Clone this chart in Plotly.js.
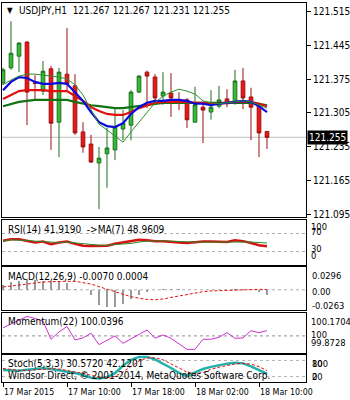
<!DOCTYPE html>
<html><head><meta charset="utf-8">
<script src="https://cdn.plot.ly/plotly-3.0.1.min.js"></script>
<style>html,body{margin:0;padding:0;background:#fff;}#chart{width:350px;height:400px;}</style>
</head><body><div id="chart"></div><script>
// ---- data (hourly bars, 17 Mar 02:00 .. 18 Mar 11:00) ----
const barOpen  = [121.367,121.398,121.422,121.451,121.367,121.350,121.396,121.286,121.385,121.361,121.266,121.241,121.202,121.221,121.229,121.272,121.280,121.348,121.389,121.379,121.340,121.346,121.332,121.332,121.286,121.317,121.307,121.319,121.334,121.326,121.371,121.338,121.319,121.267];
const barHigh  = [121.398,121.494,121.451,121.453,121.383,121.412,121.402,121.398,121.480,121.385,121.286,121.260,121.235,121.274,121.313,121.311,121.352,121.383,121.392,121.385,121.389,121.387,121.348,121.336,121.359,121.328,121.352,121.361,121.354,121.394,121.398,121.357,121.326,121.267];
const barLow   = [121.363,121.394,121.389,121.280,121.332,121.342,121.229,121.214,121.352,121.260,121.223,121.202,121.107,121.151,121.208,121.249,121.249,121.346,121.315,121.322,121.322,121.297,121.311,121.274,121.286,121.243,121.291,121.315,121.317,121.322,121.313,121.249,121.214,121.231];
const barClose = [121.394,121.428,121.449,121.348,121.366,121.391,121.284,121.389,121.365,121.264,121.235,121.204,121.212,121.233,121.276,121.284,121.348,121.381,121.381,121.336,121.348,121.336,121.331,121.291,121.322,121.311,121.317,121.332,121.324,121.371,121.336,121.317,121.264,121.255];
const maBlue   = [121.352,121.369,121.379,121.377,121.369,121.365,121.365,121.367,121.365,121.348,121.330,121.307,121.286,121.278,121.276,121.284,121.303,121.317,121.326,121.330,121.330,121.332,121.332,121.330,121.324,121.324,121.321,121.324,121.326,121.328,121.330,121.328,121.319,121.307];
const maRed    = [121.334,121.342,121.350,121.352,121.352,121.352,121.350,121.350,121.350,121.340,121.330,121.317,121.309,121.303,121.301,121.301,121.307,121.315,121.321,121.326,121.328,121.328,121.328,121.328,121.326,121.326,121.324,121.324,121.326,121.328,121.328,121.328,121.324,121.319];
const maGreen  = [121.319,121.324,121.328,121.330,121.332,121.332,121.332,121.332,121.332,121.328,121.324,121.321,121.319,121.317,121.315,121.315,121.317,121.319,121.321,121.324,121.326,121.326,121.326,121.326,121.326,121.326,121.326,121.326,121.326,121.326,121.326,121.326,121.324,121.321];
const maThin   = [121.363,121.373,121.381,121.385,121.385,121.383,121.381,121.379,121.375,121.363,121.342,121.311,121.282,121.270,121.258,121.245,121.266,121.286,121.307,121.326,121.340,121.348,121.354,121.350,121.344,121.330,121.326,121.324,121.326,121.328,121.330,121.328,121.321,121.315];
const rsi      = [54,57,57,53,50,52,46,50,52,47,43,42,42,43,47,50,54,56,55,53,53,51,50,49,51,52,52,51,51,55,53,49,44,41.919];
const rsiMa    = [53,56,55,55,53,52,51,50,51,49,47,45,44,44,45,46,48,51,53,53,54,53,52,52,51,51,51,51,52,52,52,51,50,48.961];
const macdMain = [0.0062,0.0101,0.0114,0.0123,0.0123,0.0120,0.0110,0.0101,0.0092,0.0014,-0.0007,-0.0072,-0.0202,-0.0224,-0.0224,-0.0181,-0.0116,-0.0072,-0.0029,-0.0007,0.0005,0.0010,0.0008,0.0002,-0.0005,-0.0005,0.0003,0.0002,0.0003,0.0010,0.0012,0.0004,-0.0025,-0.0070];
const macdSig  = [0.0036,0.0050,0.0065,0.0080,0.0090,0.0100,0.0105,0.0110,0.0110,0.0110,0.0095,0.0075,0.0040,0.0005,-0.0030,-0.0060,-0.0090,-0.0110,-0.0125,-0.0130,-0.0120,-0.0100,-0.0080,-0.0060,-0.0040,-0.0025,-0.0015,-0.0010,-0.0005,0.0000,0.0003,0.0005,0.0005,0.0004];
const momentum = [100.06,100.09,100.12,100.145,100.13,100.11,99.975,100.03,100.07,99.97,99.985,100.02,99.935,99.965,100.0,99.945,99.98,100.01,100.044,99.982,100.007,99.982,99.94,99.90,99.90,99.975,99.975,99.99,100.024,99.982,99.985,100.039,100.024,100.0396];
const stochK   = [44,43,42,45,49,51,48,44,38,33,26,16,13,18,33,60,82,93,93,84,69,52,34,22,36,48,56,62,68,71,69,58,44,30.572];
const stochD   = [50,46,43,43,45,48,49,48,43,38,32,25,18,16,21,37,58,78,89,90,82,68,52,36,31,35,47,55,62,67,69,66,57,42.12];
const timeTickIdx  = [0,8,16,24,32];
const timeTickText = ['17 Mar 2015','17 Mar 10:00','17 Mar 18:00','18 Mar 02:00','18 Mar 10:00'];
const priceTicks = [121.095,121.165,121.235,121.305,121.375,121.445,121.515];
const lastPrice = 121.255;
const headerText = 'USDJPY,H1\u00a0\u00a0121.267 121.267 121.231 121.255';
const rsiText  = 'RSI(14) 41.9190\u00a0\u00a0->MA(7) 48.9609';
const macdText = 'MACD(12,26,9) -0.0070 0.0004';
const momText  = 'Momentum(22) 100.0396';
const stochText = 'Stoch(5,3,3) 30.5720 42.1201';
const copyText = 'Windsor Direct, \u00a9 2001-2014, MetaQuotes Software Corp.';
const rsiLabels = ['100','70','30','0'];
const macdLabels = ['0.0296','0.00','-0.0263'];
const momLabels = ['100.1704','100','99.8728'];
const stochLabels = ['100','80','20','0'];

// ---- layout geometry ----
const W=350,H=400, ml=2, mr=44, mt=3, mb=18;
const plotW = W-ml-mr, plotH = H-mt-mb;
const dom = (top,bot) => [(H-mb-bot)/plotH, (H-mb-top)/plotH];
const fx = px => (px-ml)/plotW;
const fy = py => (H-mb-py)/plotH;
const FONT = '"DejaVu Sans Condensed", "Liberation Sans", Arial, sans-serif';
const xs = barClose.map((_,i)=>i);
const xRange = [-0.125, 37.875];
const xToPx = v => ml + (v - xRange[0]) / (xRange[1]-xRange[0]) * plotW;

const traces = [
  {type:'scatter',mode:'lines',x:xs,y:maGreen,line:{color:'#137313',width:2.2},xaxis:'x',yaxis:'y',hoverinfo:'skip'},
  {type:'scatter',mode:'lines',x:xs,y:maRed,line:{color:'#e01010',width:2.2},xaxis:'x',yaxis:'y',hoverinfo:'skip'},
  {type:'scatter',mode:'lines',x:xs,y:maBlue,line:{color:'#0a0adc',width:2.2},xaxis:'x',yaxis:'y',hoverinfo:'skip'},
  {type:'scatter',mode:'lines',x:xs,y:maThin,line:{color:'#2f8f2f',width:1},xaxis:'x',yaxis:'y',hoverinfo:'skip'},
  {type:'candlestick',x:xs,open:barOpen,high:barHigh,low:barLow,close:barClose,
   increasing:{line:{color:'#1d6f1d',width:1},fillcolor:'#36bb36'},
   decreasing:{line:{color:'#9a1010',width:1},fillcolor:'#ee1515'},
   whiskerwidth:0,xaxis:'x',yaxis:'y',hoverinfo:'skip'},
  {type:'scatter',mode:'lines',x:xs,y:rsi,line:{color:'#d81010',width:2.5},xaxis:'x2',yaxis:'y2',hoverinfo:'skip'},
  {type:'scatter',mode:'lines',x:xs,y:rsiMa,line:{color:'#2a8a2a',width:1},xaxis:'x2',yaxis:'y2',hoverinfo:'skip'},
  {type:'bar',x:xs,y:macdMain,width:0.13,marker:{color:'#9a9a9a',line:{width:0}},xaxis:'x3',yaxis:'y3',hoverinfo:'skip'},
  {type:'scatter',mode:'lines',x:xs,y:macdSig,line:{color:'#e01010',width:1,dash:'3px,2px'},xaxis:'x3',yaxis:'y3',hoverinfo:'skip'},
  {type:'scatter',mode:'lines',x:xs,y:momentum,line:{color:'#cc33cc',width:1},xaxis:'x4',yaxis:'y4',hoverinfo:'skip'},
  {type:'scatter',mode:'lines',x:xs,y:stochK,line:{color:'#20b2aa',width:2.5},xaxis:'x5',yaxis:'y5',hoverinfo:'skip'},
  {type:'scatter',mode:'lines',x:xs,y:stochD,line:{color:'#e01010',width:1,dash:'3px,2px'},xaxis:'x5',yaxis:'y5',hoverinfo:'skip'}
];

const xBase = {range:xRange,showgrid:false,zeroline:false,showline:true,mirror:true,linecolor:'#000',linewidth:1,showticklabels:false,ticks:'',fixedrange:true};
const yBase = {side:'right',showgrid:false,zeroline:false,showline:true,mirror:true,linecolor:'#000',linewidth:1,showticklabels:false,ticks:'',fixedrange:true};

const layout = {
  width:W,height:H,margin:{l:ml,r:mr,t:mt,b:mb},paper_bgcolor:'#fff',plot_bgcolor:'#fff',
  showlegend:false,boxgap:0.35,bargap:0,
  font:{family:FONT,size:10,color:'#000'},
  xaxis:Object.assign({},xBase,{anchor:'y',domain:[0,1],rangeslider:{visible:false}}),
  xaxis2:Object.assign({},xBase,{anchor:'y2',matches:'x'}),
  xaxis3:Object.assign({},xBase,{anchor:'y3',matches:'x'}),
  xaxis4:Object.assign({},xBase,{anchor:'y4',matches:'x'}),
  xaxis5:Object.assign({},xBase,{anchor:'y5',matches:'x',ticks:'outside',ticklen:4,tickcolor:'#000',
    tickvals:timeTickIdx,ticktext:timeTickText.map(()=>''),showticklabels:false}),
  yaxis:Object.assign({},yBase,{anchor:'x',domain:dom(3,217),range:[121.0908,121.5315],
    tickvals:priceTicks,ticktext:priceTicks.map(v=>v.toFixed(3)),showticklabels:true,ticks:'outside',ticklen:4,tickcolor:'#000',
    tickfont:{family:FONT,size:10,color:'#000'}}),
  yaxis2:Object.assign({},yBase,{anchor:'x2',domain:dom(220,265),range:[0,100]}),
  yaxis3:Object.assign({},yBase,{anchor:'x3',domain:dom(267,310),range:[-0.0263,0.0296]}),
  yaxis4:Object.assign({},yBase,{anchor:'x4',domain:dom(313,353),range:[99.8728,100.1704]}),
  yaxis5:Object.assign({},yBase,{anchor:'x5',domain:dom(355,382),range:[0,100]}),
  shapes:[
    {type:'line',xref:'x',yref:'y',x0:xRange[0],x1:xRange[1],y0:lastPrice,y1:lastPrice,line:{color:'#c0c0c0',width:1},layer:'below'},
    {type:'line',xref:'x2',yref:'y2',x0:xRange[0],x1:xRange[1],y0:70,y1:70,line:{color:'#b0b0b0',width:1,dash:'3px,3px'},layer:'below'},
    {type:'line',xref:'x2',yref:'y2',x0:xRange[0],x1:xRange[1],y0:30,y1:30,line:{color:'#b0b0b0',width:1,dash:'3px,3px'},layer:'below'},
    {type:'line',xref:'x3',yref:'y3',x0:xRange[0],x1:xRange[1],y0:0,y1:0,line:{color:'#b0b0b0',width:1,dash:'3px,3px'},layer:'below'},
    {type:'line',xref:'x4',yref:'y4',x0:xRange[0],x1:xRange[1],y0:100,y1:100,line:{color:'#909090',width:1,dash:'3px,3px'},layer:'below'},
    {type:'line',xref:'x5',yref:'y5',x0:xRange[0],x1:xRange[1],y0:80,y1:80,line:{color:'#b0b0b0',width:1,dash:'3px,3px'},layer:'below'},
    {type:'line',xref:'x5',yref:'y5',x0:xRange[0],x1:xRange[1],y0:20,y1:20,line:{color:'#b0b0b0',width:1,dash:'3px,3px'},layer:'below'}
  ],
  annotations:[]
};

const ann = (text,px,py,opts) => Object.assign({text:text,xref:'paper',yref:'paper',x:fx(px),y:fy(py),
  xanchor:'left',yanchor:'middle',showarrow:false,font:{family:FONT,size:10,color:'#000'}},opts||{});
const small = {font:{family:FONT,size:9.3,color:'#000'}};
const A = layout.annotations;
A.push(ann('\u25bc',5,11,{font:{family:FONT,size:8,color:'#000'}}));
A.push(ann(headerText,17,11));
A.push(ann(rsiText,6,229));
A.push(ann(macdText,6,276));
A.push(ann(momText,6,321));
A.push(ann(stochText,6,363));
A.push(ann(copyText,6,375));
A.push(ann(String(lastPrice.toFixed(3)),307,137,{bgcolor:'#000',font:{family:FONT,size:10,color:'#fff'},borderpad:1}));
[226,231,248,255].forEach((p,i)=>A.push(ann(rsiLabels[i],309,p,small)));
[275,291,305].forEach((p,i)=>A.push(ann(macdLabels[i],310,p,small)));
[321,334,342].forEach((p,i)=>A.push(ann(momLabels[i],309,p,small)));
[363,363,376,376].forEach((p,i)=>A.push(ann(stochLabels[i],310,p,small)));
timeTickIdx.forEach((v,i)=>A.push(ann(timeTickText[i],xToPx(v)-1,392,{font:{family:FONT,size:8.8,color:'#000'}})));

Plotly.newPlot('chart',traces,layout,{staticPlot:true,displayModeBar:false});
</script></body></html>
